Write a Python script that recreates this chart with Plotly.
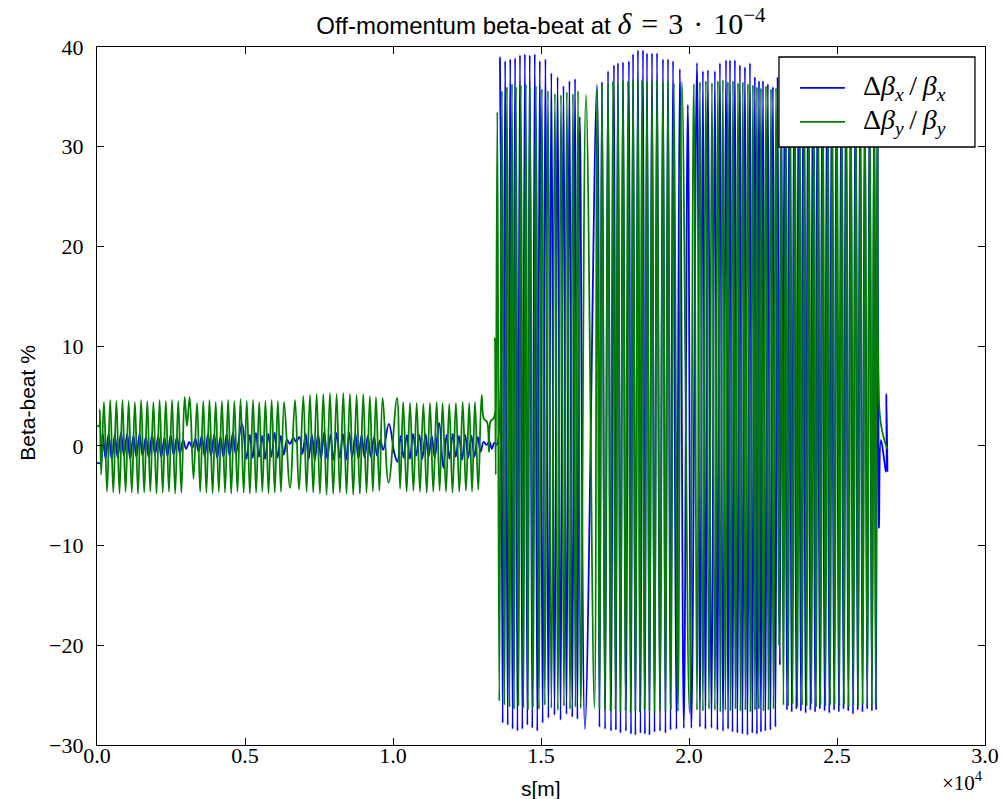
import plotly.graph_objects as go

# ---------------- data (s in metres, beta-beat in %) ----------------
# horizontal beta-beat, region 1 (small oscillation)
bx_s_r1 = [0, 120, 190, 290, 390, 500, 600, 700, 810, 910, 1020, 1120, 1230, 1330, 1440, 1540, 1650, 1750,
           1860, 1960, 2070, 2170, 2280, 2380, 2490, 2590, 2700, 2800, 2910, 3010, 3120, 3220, 3330, 3430,
           3540, 3640, 3750, 3850, 3960, 4060, 4170, 4270, 4380, 4480, 4590, 4690, 4900, 5050, 5160, 5260,
           5370, 5470, 5580, 5680, 5790, 5890, 6000, 6100, 6210, 6310, 6420, 6520, 6630, 6730, 6840, 6940,
           7050, 7150, 7260, 7360, 7470, 7570, 7680, 7780, 7890, 7990, 8100, 8200, 8310, 8410, 8520, 8620,
           8730, 8830, 8940, 9040, 9150, 9250, 9360, 9460, 9570, 9670, 9860, 10050, 10150, 10260, 10360,
           10470, 10570, 10680, 10780, 10890, 10990, 11100, 11200, 11310, 11410, 11560, 11700, 11810, 11910,
           12020, 12120, 12230, 12330, 12440, 12540, 12650, 12750, 12860, 12960, 13060, 13160, 13260, 13340,
           13420, 13500]
bx_v_r1 = [-1.7, -1.7, 1.3, -1.3, 1.2, -1.4, 1.1, -1.2, 1.3, -1.0, 1.2, -1.3, 1.0, -1.1, 1.2, -1.0, 0.9, -1.2,
           1.1, -0.9, 1.0, -1.1, 0.8, -1.0, 1.1, -0.9, 0.9, -0.8, 0.6, -0.3, 0.4, -0.2, 0.7, -0.6,
           1.0, -1.1, 1.2, -1.0, 1.1, -1.2, 0.9, -1.1, 1.2, -1.0, 1.3, -0.8, 2.2, -1.3, 1.1, -1.2,
           1.3, -1.1, 1.0, -1.3, 1.2, -1.1, 1.3, -1.2, 1.0, -0.9, 0.6, 0.2, 0.8, 0.4, 0.9, -0.8,
           1.2, -1.3, 1.1, -1.4, 1.2, -1.2, 1.4, -1.3, 1.1, -1.4, 1.3, -1.2, 1.2, -1.4, 1.3, -1.1,
           1.2, -1.3, 1.1, -1.2, 1.0, -1.1, 0.9, -1.0, 0.6, -0.4, 2.2, -0.8, -1.6, 1.0, -1.2,
           1.1, -1.3, 1.2, -1.0, 1.1, -1.3, 1.2, -1.1, 1.0, -1.2, 2.3, -2.2, 1.1, -1.3,
           1.2, -1.1, 1.0, -1.4, 1.1, -1.2, 1.0, -1.1, 0.9, -0.6, 0.4, 0.1, 0.4, -0.3,
           0.3, 0.1]

# horizontal beta-beat, region 2 (large oscillation)
bx_s_r2 = [13620, 13705, 13790, 13875, 13960, 14040, 14125, 14205, 14290, 14370, 14455, 14540, 14620, 14705,
           14790, 14875, 14960, 15055, 15150, 15250, 15350, 15455, 15560, 15660, 15760, 15860, 15960, 16055,
           16150, 16230, 16310, 16485,
           16890, 16975, 17060, 17165, 17265, 17365, 17465, 17530, 17600, 17685, 17770, 17870, 17970, 18040,
           18110, 18190, 18275, 18360, 18445, 18510, 18580, 18665, 18750, 18835, 18920, 19020, 19120, 19205,
           19290, 19375, 19460, 19575, 19690, 19825, 19960, 20080,
           20270, 20370, 20470, 20555, 20640, 20760, 20875, 20960, 21045, 21150, 21250, 21320, 21385, 21470,
           21550, 21635, 21720, 21805, 21890, 21975, 22060, 22140, 22225, 22295, 22365, 22430, 22500, 22580,
           22665, 22750, 22835, 22920, 22990, 23070, 23120, 23170,
           23230, 23310, 23390, 23470, 23550, 23625, 23700, 23780, 23860, 23940, 24020, 24100, 24180, 24260,
           24340, 24420, 24500, 24580, 24660, 24740, 24820, 24900, 24980, 25060, 25140, 25220, 25300, 25380,
           25460, 25540, 25620, 25700, 25780, 25860, 25940, 26020, 26100, 26180, 26260, 26320, 26370,
           26416, 26484, 26585, 26652, 26669, 26703]
bx_v_r2 = [39.0, -27.8, 38.6, -28.0, 38.8, -28.4, 38.9, -28.6, 39.2, -28.4, 39.3, -28.0, 39.2, -28.3,
           39.3, -28.6, 38.6, -27.8, 38.8, -27.3, 37.4, -27.0, 37.0, -27.5, 36.1, -26.9, 36.6, -27.2,
           36.8, -27.4, 33.0, -28.4,
           36.2, -28.2, 36.5, -28.4, 37.6, -28.6, 38.2, -28.5, 38.4, -28.8, 38.5, -28.6, 38.6, -28.9,
           39.3, -29.0, 39.7, -28.8, 39.7, -28.9, 39.4, -29.0, 39.4, -28.7, 39.4, -28.6, 38.8, -28.8,
           38.8, -28.5, 38.6, -28.4, 37.8, -28.3, 34.2, -28.3,
           38.4, -28.2, 37.6, -28.4, 37.7, -28.3, 37.6, -28.5, 38.4, -28.6, 38.7, -28.4, 38.7, -28.7,
           38.7, -28.8, 38.2, -28.9, 38.0, -29.0, 38.4, -28.8, 37.0, -28.9, 36.6, -28.7, 36.6, -28.6,
           36.3, -28.5, 36.0, -28.2, 37.0, -22.0, 37.0, -11.7,
           37.2, -26.5, 37.4, -26.7, 37.3, -26.4, 37.5, -26.6, 37.2, -26.8, 37.4, -26.5, 37.3, -26.7,
           37.5, -26.4, 37.2, -26.6, 37.4, -26.8, 37.3, -26.5, 37.5, -26.7, 37.2, -26.4, 37.4, -26.6,
           37.3, -26.9, 37.5, -26.5, 37.2, -26.7, 37.4, -26.4, 37.3, -26.6, 37.2, -26.5, 37.0,
           -8.2, 0.6, -1.2, -2.6, 5.2, -2.6]

# vertical beta-beat, region 1
by_s_r1 = [0, 70, 95, 140,
           235, 340, 445, 550, 655, 760, 860, 965, 1070, 1175, 1280, 1385, 1490, 1595, 1700, 1800,
           1905, 2010, 2115, 2220, 2325, 2430, 2535, 2640, 2745, 2850, 2960, 3040, 3130, 3260, 3380, 3485,
           3590, 3695, 3800, 3905, 4010, 4115, 4220, 4325, 4430, 4535, 4640, 4745, 4850, 4955, 5060, 5165,
           5270, 5375, 5480, 5585, 5690, 5795, 5900, 6005, 6110, 6215, 6320, 6520, 6690, 6824,
           6970, 7080, 7195, 7305, 7420, 7530, 7645, 7755, 7870, 7980, 8095, 8205, 8320, 8430, 8545, 8655,
           8770, 8880, 8995, 9105, 9220, 9320, 9425, 9540, 9650, 9850,
           10135, 10240, 10345, 10460, 10575, 10690, 10800, 10910, 11025, 11140, 11250, 11360, 11475,
           11575, 11675, 11790, 11900, 12010, 12125, 12240, 12355, 12465, 12575, 12670, 12770, 12880, 12995,
           13070, 13175, 13240, 13300, 13410, 13445, 13470]
by_v_r1 = [2.0, 2.0, 3.6, -2.9,
           4.4, -4.6, 4.6, -4.7, 4.5, -4.8, 4.6, -4.6, 4.5, -4.7, 4.4, -4.8, 4.6, -4.7, 4.5, -4.6,
           4.4, -4.8, 4.6, -4.7, 4.5, -4.6, 4.6, -4.8, 4.5, -4.7, 4.9, 2.0, 4.9, -3.3, 4.3, -4.6,
           4.5, -4.7, 4.6, -4.8, 4.4, -4.6, 4.5, -4.7, 4.6, -4.8, 4.5, -4.6, 4.7, -4.7, 4.5, -4.8,
           4.6, -4.7, 4.4, -4.6, 4.5, -4.8, 4.6, -4.7, 4.5, -4.6, 4.4, -4.2, 4.6, -4.4,
           5.0, -4.6, 5.1, -4.7, 5.2, -4.8, 5.2, -4.9, 5.3, -4.8, 5.2, -4.7, 5.3, -4.8, 5.2, -4.9,
           5.1, -4.8, 5.2, -4.7, 5.0, -4.6, 4.9, -4.5, 4.8, -3.7,
           4.8, -4.3, 4.4, -4.6, 4.3, -4.5, 4.3, -4.6, 4.2, -4.7, 4.3, -4.6, 4.4,
           -4.5, 4.3, -4.6, 4.2, -4.7, 4.3, -4.6, 4.4, -4.5, 4.3, -4.6, 4.4, -4.4, 5.1,
           2.7, 2.4, -0.6, 2.5, 2.8, 10.8, -2.9]

# vertical beta-beat, region 2
by_s_r2 = [13525, 13590, 13680, 13765, 13850, 13935, 14020, 14090, 14155, 14240, 14320, 14405, 14490, 14560,
           14625, 14730, 14830, 14930, 15030, 15130, 15235, 15350, 15470, 15570, 15675, 15775, 15875, 15980,
           16080, 16165, 16250, 16340, 16520, 16805,
           16890, 16975, 17060, 17160, 17265, 17345, 17430, 17515, 17600, 17685, 17770, 17855, 17940, 18025,
           18110, 18190, 18275, 18340, 18410, 18495, 18580, 18665, 18750, 18835, 18920, 19020, 19120, 19205,
           19290, 19390, 19490, 19625, 19760, 20015,
           20165, 20270, 20370, 20470, 20570, 20675, 20775, 20875, 20975, 21060, 21145, 21230, 21315, 21400,
           21485, 21570, 21655, 21740, 21820, 21905, 21990, 22075, 22160, 22230, 22295, 22360, 22430, 22515,
           22600, 22685, 22770, 22855, 22940, 23040,
           23105, 23190, 23275, 23350, 23425, 23500, 23580, 23660, 23745, 23820, 23900, 23975, 24050, 24135,
           24220, 24295, 24370, 24445, 24525, 24610, 24695, 24770, 24845, 24920, 25000, 25080, 25165, 25240,
           25320, 25395, 25470, 25555, 25640, 25715, 25790, 25870, 25945, 26025, 26110, 26180, 26250, 26305,
           26365, 26433, 26517, 26619, 26703]
by_v_r2 = [33.5, -25.6, 35.6, -26.0, 36.0, -26.2, 36.3, -26.4, 36.0, -26.1, 36.2, -26.3, 36.3, -26.5,
           36.0, -26.2, 36.1, -26.4, 35.8, -26.0, 35.6, -26.3, 35.3, -26.5, 35.2, -26.1, 35.5, -26.4,
           35.3, -26.2, 35.6, -26.3, 35.2, -26.3,
           35.8, -26.4, 36.2, -26.5, 36.4, -26.6, 36.6, -26.5, 36.5, -26.7, 36.7, -26.6, 36.6, -26.8,
           36.8, -26.6, 36.6, -26.7, 36.7, -26.5, 36.5, -26.6, 36.6, -26.8, 36.7, -26.6, 36.5, -26.7,
           36.6, -26.5, 36.4, -26.6, 36.5, -26.8,
           36.3, -26.5, 36.5, -26.6, 36.6, -26.4, 36.4, -26.5, 36.6, -26.7, 36.7, -26.5, 36.5, -26.6,
           36.6, -26.4, 36.4, -26.6, 36.5, -26.5, 36.3, -26.7, 36.2, -26.5, 36.0, -26.4, 35.9, -26.6,
           36.1, -26.5, 35.8, -26.4, 35.9, -20.0,
           35.5, -26.0, 35.6, -26.1, 35.4, -25.9, 35.6, -26.2, 35.5, -26.0, 35.7, -26.1, 35.4, -25.9,
           35.6, -26.2, 35.5, -26.0, 35.6, -26.1, 35.4, -26.0, 35.7, -25.9, 35.5, -26.1, 35.6, -26.0,
           35.4, -26.2, 35.6, -26.0, 35.5, -26.1, 35.7, -25.9, 35.4, -26.0, 35.6, -26.1, 35.5, -26.0,
           35.3, 3.6, 1.6, 0.4, -0.3]

x_tickvals = [0, 5000, 10000, 15000, 20000, 25000, 30000]
x_ticktext = ["0.0", "0.5", "1.0", "1.5", "2.0", "2.5", "3.0"]
y_tickvals = [-30, -20, -10, 0, 10, 20, 30, 40]
y_ticktext = ["\u221230", "\u221220", "\u221210", "0", "10", "20", "30", "40"]

series_names = [
    "\u0394<i>\u03b2</i><sub><i>x</i></sub>\u2009/\u2009<i>\u03b2</i><sub><i>x</i></sub>",
    "\u0394<i>\u03b2</i><sub><i>y</i></sub>\u2009/\u2009<i>\u03b2</i><sub><i>y</i></sub>",
]
series_colors = ["#0000ff", "#008000"]

bx_s = bx_s_r1 + bx_s_r2
bx_v = bx_v_r1 + bx_v_r2
by_s = by_s_r1 + by_s_r2
by_v = by_v_r1 + by_v_r2

SERIF = "Liberation Serif, DejaVu Serif, serif"
SANS = "Liberation Sans, Arial, sans-serif"
LW = 1.8

fig = go.Figure()
fig.add_trace(go.Scatter(
    x=bx_s, y=bx_v, mode="lines", name=series_names[0], showlegend=False,
    line=dict(color=series_colors[0], width=LW, shape="spline", smoothing=1.1),
))
fig.add_trace(go.Scatter(
    x=by_s, y=by_v, mode="lines", name=series_names[1], showlegend=False,
    line=dict(color=series_colors[1], width=LW, shape="spline", smoothing=1.1),
))

# matplotlib-style legend box (drawn above the lines, hides them like the original)
L_X0, L_X1, L_Y0, L_Y1 = 0.768, 0.9887, 0.8567, 0.9857
shapes = [dict(type="rect", xref="paper", yref="paper", x0=L_X0, x1=L_X1, y0=L_Y0, y1=L_Y1,
               fillcolor="white", line=dict(color="black", width=1.3), layer="above")]
entry_y = [0.9413, 0.8926]
annotations = []
for name, col, yy in zip(series_names, series_colors, entry_y):
    shapes.append(dict(type="line", xref="paper", yref="paper", x0=0.7917, x1=0.8423, y0=yy, y1=yy,
                       line=dict(color=col, width=LW), layer="above"))
    annotations.append(dict(text=name, xref="paper", yref="paper", x=0.8600, y=yy,
                            xanchor="left", yanchor="middle", showarrow=False,
                            font=dict(family=SERIF, size=28, color="black")))

annotations += [
    dict(text="s[m]", xref="paper", yref="paper", x=0.5, y=-0.062,
         xanchor="center", yanchor="middle", showarrow=False,
         font=dict(family=SANS, size=21, color="black")),
    dict(text="Beta-beat %", xref="paper", yref="paper", x=-0.078, y=0.49,
         xanchor="center", yanchor="middle", showarrow=False, textangle=-90,
         font=dict(family=SANS, size=21, color="black")),
    dict(text="\u00d710<sup>4</sup>", xref="paper", yref="paper", x=1.0, y=-0.053,
         xanchor="right", yanchor="middle", showarrow=False,
         font=dict(family=SERIF, size=21, color="black")),
]

fig.update_layout(
    width=1003, height=799, autosize=False,
    margin=dict(l=97, r=18, t=47, b=54, autoexpand=False),
    paper_bgcolor="white", plot_bgcolor="white",
    showlegend=False,
    title=dict(
        text=('Off-momentum beta-beat at '
              '<span style="font-family:Liberation Serif;font-size:30px"><i>\u03b4</i>\u2004=\u20043'
              '\u2004\u00b7\u200410<sup>\u22124</sup></span>'),
        x=0.5, xref="paper", xanchor="center",
        y=0.9675, yref="container", yanchor="middle",
        font=dict(family=SANS, size=24, color="black"),
    ),
    xaxis=dict(
        range=[0, 30000], tickmode="array", tickvals=x_tickvals, ticktext=x_ticktext,
        ticks="inside", ticklen=7, tickwidth=1, tickcolor="black",
        showline=True, linecolor="black", linewidth=1.3, mirror="ticks",
        showgrid=False, zeroline=False, ticklabelstandoff=-10, automargin=False,
        tickfont=dict(family=SERIF, size=22, color="black"),
    ),
    yaxis=dict(
        range=[-30, 40], tickmode="array", tickvals=y_tickvals, ticktext=y_ticktext,
        ticks="inside", ticklen=7, tickwidth=1, tickcolor="black",
        showline=True, linecolor="black", linewidth=1.3, mirror="ticks",
        showgrid=False, zeroline=False, ticklabelstandoff=8, automargin=False,
        tickfont=dict(family=SERIF, size=22, color="black"),
    ),
    shapes=shapes,
    annotations=annotations,
)

fig.write_html("out.html")
